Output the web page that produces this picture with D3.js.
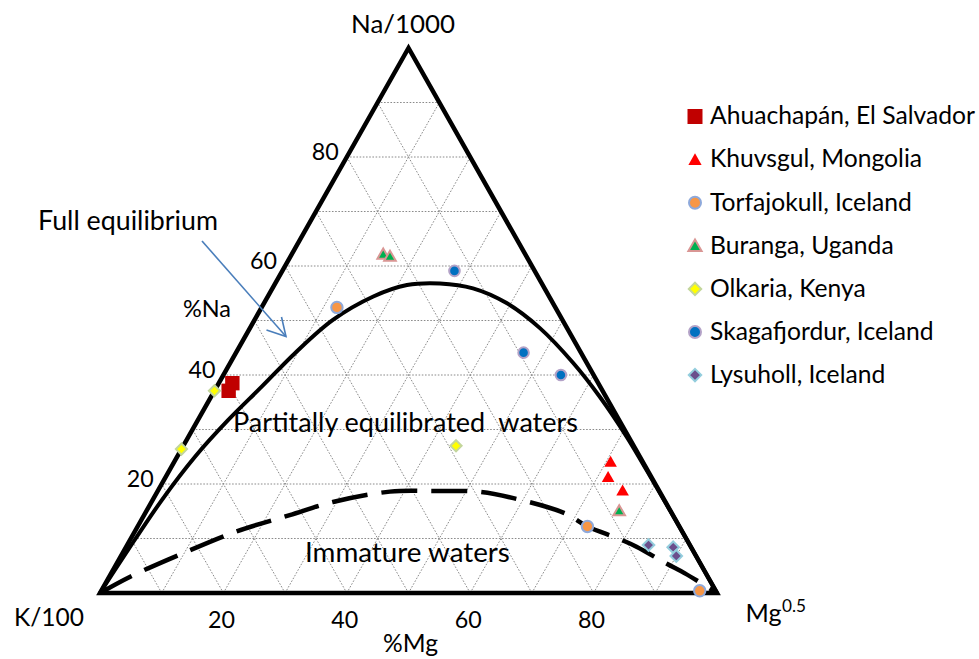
<!DOCTYPE html>
<html><head><meta charset="utf-8">
<script src="https://cdn.jsdelivr.net/npm/d3@7"></script>
<style>
html,body{margin:0;padding:0;background:#fff;}
svg text{font-family:Lato,"Open Sans",sans-serif;fill:#000;}
</style></head><body>
<svg id="chart" width="979" height="659"></svg>
<script>
// ---------- data: each point is [Na%, K%, Mg%] ----------
const seriesNames = ["Ahuachapán, El Salvador","Khuvsgul, Mongolia","Torfajokull, Iceland","Buranga, Uganda","Olkaria, Kenya","Skagafjordur, Iceland","Lysuholl, Iceland"];
const ahuachapan   = [[38.5,59.3,2.2],[37.1,60.6,2.3]];
const khuvsgul     = [[24.1,5.2,70.7],[21.3,7.0,71.7],[18.8,5.9,75.3]];
const torfajokull  = [[52.4,35.4,12.2],[12.2,14.9,72.9],[0.4,2.6,97.0]];
const buranga      = [[62.2,23.0,14.8],[61.8,22.1,16.1],[15.1,8.3,76.6]];
const olkaria      = [[37.1,62.9,0.0],[26.4,73.6,0.0],[27.0,28.8,44.2]];
const skagafjordur = [[59.1,13.0,27.9],[44.1,9.3,46.6],[40.0,5.3,54.7]];
const lysuholl     = [[8.8,6.7,84.5],[8.4,2.9,88.7],[6.8,3.2,90.0]];

const fullEquilibrium = [[0,100,0],[7.9,91.5,0.6],[17.1,81.4,1.5],[25.0,72.1,2.9],[31.7,63.4,4.9],[37.9,54.8,7.3],[44.0,46.4,9.6],[50.1,37.2,12.7],[54.4,28.5,17.1],[56.5,22.0,21.5],[56.8,16.5,26.7],[55.9,11.6,32.5],[53.2,7.5,39.3],[48.6,4.4,47.0],[42.2,2.2,55.6],[36.0,1.0,63.0],[28.7,0.3,71.0],[20.0,0.1,79.9],[10.0,0,90.0],[0,0,100]];
const immatureLine = [[0,100,0],[3.0,93.6,3.4],[7.3,82.9,9.8],[11.3,72.2,16.5],[14.3,62.1,23.6],[16.7,53.9,29.4],[18.6,43.7,37.7],[18.7,36.1,45.2],[18.6,29.6,51.8],[17.4,24.3,58.3],[14.6,17.3,68.1],[12.2,14.9,72.9],[10.0,11.0,79.0],[8.5,8.8,82.7],[5.4,5.5,89.1],[3.6,3.4,93.0],[0,0,100]];

const gridLevels = [10,20,30,40,50,60,70,80,90];
const naTicks = [20,40,60,80];
const mgTicks = [20,40,60,80];

// ---------- layout ----------
const svg = d3.select("#chart");
const xs = d3.scaleLinear().domain([0,100]).range([100,717]);   // horizontal position (Mg + Na/2)
const ys = d3.scaleLinear().domain([0,100]).range([593,48]);    // Na
function proj(p){ const s=p[0]+p[1]+p[2]; const na=100*p[0]/s, mg=100*p[2]/s; return [xs(mg+na/2), ys(na)]; }

// grid
const gridG = svg.append("g");
const gridSegs = [];
gridLevels.forEach(v=>{
  gridSegs.push([[v,100-v,0],[v,0,100-v]]);      // constant Na
  gridSegs.push([[0,100-v,v],[100-v,0,v]]);      // constant Mg
  gridSegs.push([[0,v,100-v],[100-v,v,0]]);      // constant K
});
gridG.selectAll("line").data(gridSegs).join("line")
  .attr("x1",d=>proj(d[0])[0]).attr("y1",d=>proj(d[0])[1])
  .attr("x2",d=>proj(d[1])[0]).attr("y2",d=>proj(d[1])[1])
  .attr("stroke","#8a8a8a").attr("stroke-width",1).attr("stroke-dasharray","1.6,1.6");

// triangle frame
const frame = [[100,0,0],[0,100,0],[0,0,100]].map(proj);
svg.append("path").attr("d","M"+frame.map(p=>p.join(",")).join("L")+"Z")
  .attr("fill","none").attr("stroke","#000").attr("stroke-width",4.5).attr("stroke-linejoin","miter");

// curves
const lineGen = d3.line().x(d=>proj(d)[0]).y(d=>proj(d)[1]).curve(d3.curveCatmullRom.alpha(0.5));
svg.append("path").attr("d",lineGen(fullEquilibrium)).attr("fill","none").attr("stroke","#000").attr("stroke-width",4);
svg.append("path").attr("d",lineGen(immatureLine)).attr("fill","none").attr("stroke","#000").attr("stroke-width",4.5).attr("stroke-dasharray","36,14");

// marker shapes
function shape(type, r){
  if(type==="square") return `M${-r},${-r}H${r}V${r}H${-r}Z`;
  if(type==="triangle") return `M0,${-r*0.95}L${r},${r*0.8}L${-r},${r*0.8}Z`;
  if(type==="diamond") return `M0,${-r}L${r},0L0,${r}L${-r},0Z`;
  if(type==="circle") return d3.arc()({innerRadius:0,outerRadius:r,startAngle:0,endAngle:2*Math.PI});
}
const seriesStyles = [
  {data:ahuachapan,  type:"square",   r:7.2, fill:"#C00000", stroke:"none",    sw:0},
  {data:khuvsgul,    type:"triangle", r:6.3, fill:"#FF0000", stroke:"none",    sw:0},
  {data:torfajokull, type:"circle",   r:5.7, fill:"#F79646", stroke:"#8EA9DB", sw:2},
  {data:buranga,     type:"triangle", r:5.8, fill:"#00B050", stroke:"#D99694", sw:2},
  {data:olkaria,     type:"diamond",  r:5.6, fill:"#FFFF00", stroke:"#C3D69B", sw:2},
  {data:skagafjordur,type:"circle",   r:5.3, fill:"#0070C0", stroke:"#B3A2C7", sw:2},
  {data:lysuholl,    type:"diamond",  r:5.8, fill:"#6B4F8C", stroke:"#93CDDD", sw:2}
];
seriesStyles.forEach(s=>{
  svg.append("g").selectAll("path").data(s.data).join("path")
    .attr("d",shape(s.type,s.r))
    .attr("transform",d=>`translate(${proj(d)[0]},${proj(d)[1]})`)
    .attr("fill",s.fill).attr("stroke",s.stroke).attr("stroke-width",s.sw);
});

// text helper: fit to target width
function fit(sel, w){ const len = sel.node().getComputedTextLength(); const fs = parseFloat(sel.attr("font-size")); sel.attr("font-size", (fs*w/len).toFixed(2)); return sel; }
function label(txt, x, y, anchor, w, fs){
  const t = svg.append("text").attr("x",x).attr("y",y).attr("text-anchor",anchor).attr("font-size",fs||24).style("white-space","pre").text(txt);
  if(w) fit(t,w);
  return t;
}

// tick labels
naTicks.forEach(v=>{ const p = proj([v,100-v,0]); label(String(v), p[0]-8, p[1]+3, "end", 27); });
mgTicks.forEach(v=>{ const p = proj([0,100-v,v]); label(String(v), p[0]-2, 627.5, "middle", 27); });

// axis titles
label("Na/1000", 403, 33, "middle", 104);
label("K/100", 14, 626, "start", 70);
label("%Na", 183, 316.5, "start", 48);
label("%Mg", 383, 652, "start", 55);
label("Mg", 745.5, 621.5, "start", 36);
label("0.5", 782, 611.5, "start", 24, 16);

// annotations
label("Full equilibrium", 38, 230, "start", 180);
label("Partitally equilibrated  waters", 233, 431.5, "start", 345);
label("Immature waters", 305, 561.5, "start", 205);

// arrow
const arrowG = svg.append("g").attr("stroke","#4A7EBB").attr("stroke-width",1.6).attr("fill","none");
arrowG.append("line").attr("x1",202).attr("y1",241).attr("x2",286).attr("y2",336.5);
arrowG.append("path").attr("d","M266.5,330L286,336.5L281.5,317").attr("stroke-linejoin","miter");

// legend
const legG = svg.append("g");
let legFs = null;
seriesStyles.forEach((s,i)=>{
  const cy = 116.5 + i*43.1;
  legG.append("path").attr("d",shape(s.type, s.type==="square"?7.5:(s.type==="triangle"?6.6:(s.type==="diamond"?6.2:6))))
    .attr("transform",`translate(695,${cy})`)
    .attr("fill",s.fill).attr("stroke",s.stroke).attr("stroke-width",s.sw);
  const t = legG.append("text").attr("x",710).attr("y",cy+7.8).attr("font-size",24).text(seriesNames[i]);
  if(i===0){ fit(t,265); legFs = t.attr("font-size"); } else t.attr("font-size",legFs);
});
</script>
</body></html>
